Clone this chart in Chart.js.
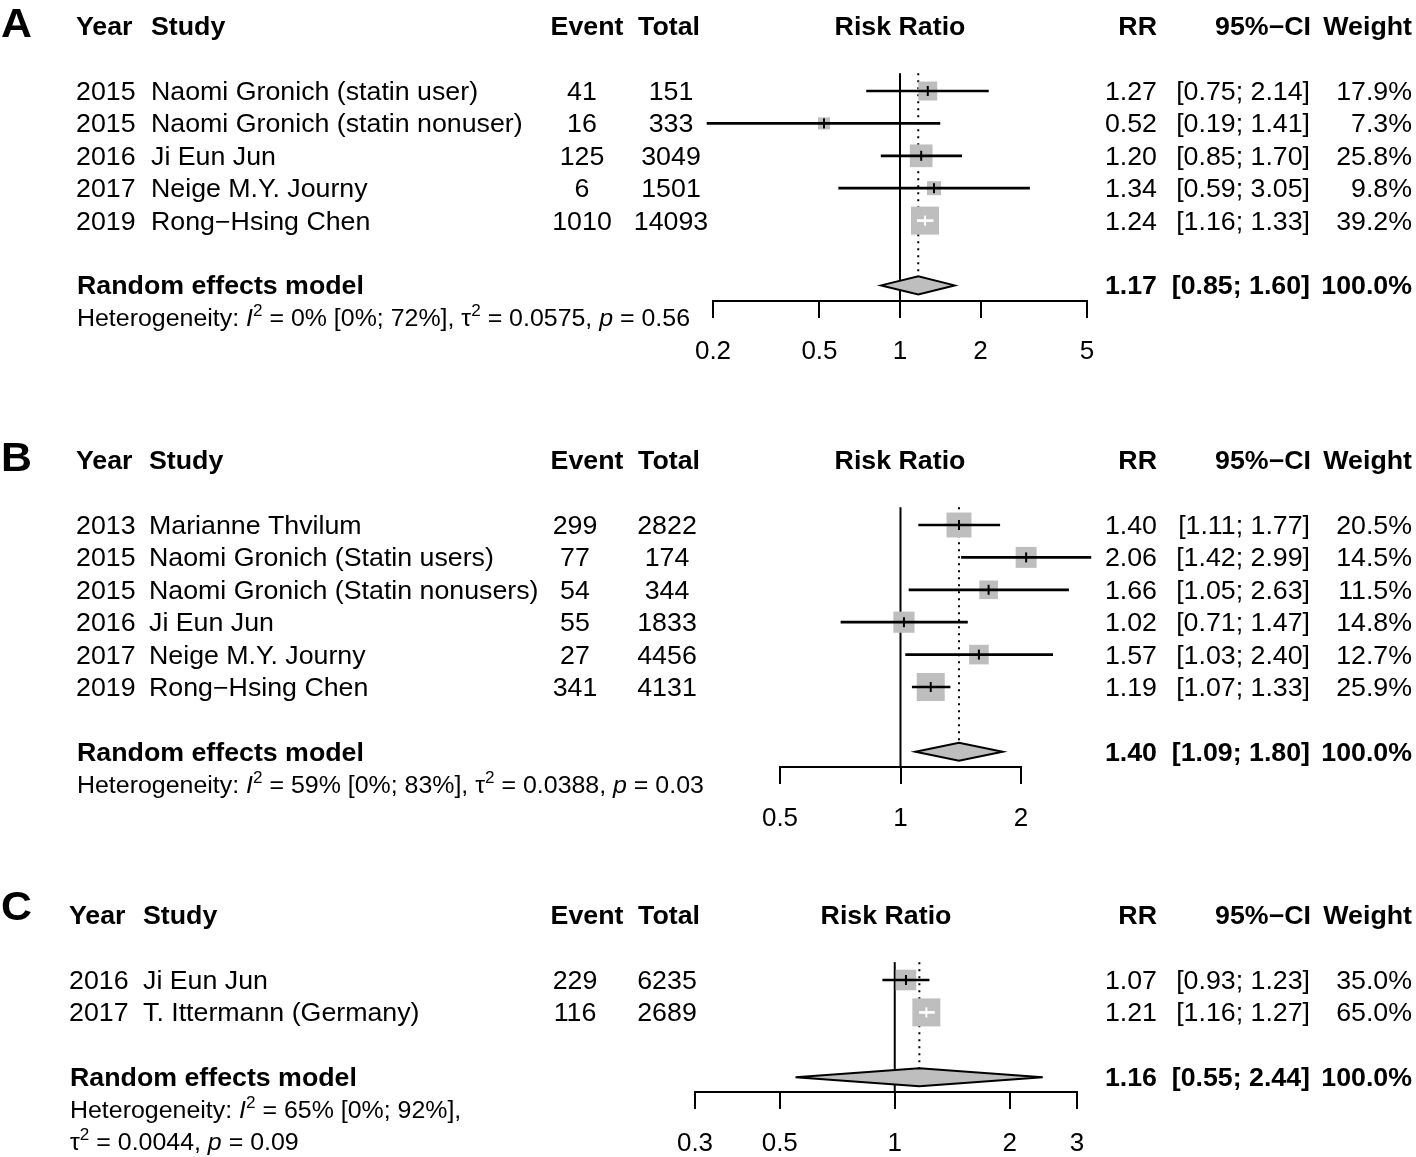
<!DOCTYPE html>
<html>
<head>
<meta charset="utf-8">
<script src="https://cdn.jsdelivr.net/npm/chart.js@4.4.1/dist/chart.umd.min.js"></script>
<style>
  html, body { margin: 0; padding: 0; background: #fff; }
  #wrap { position: relative; width: 1416px; height: 1157px; overflow: hidden; }
  canvas { position: absolute; left: 0; }
</style>
</head>
<body>
<div id="wrap">
  <canvas id="panelA" style="top:0px"></canvas>
  <canvas id="panelB" style="top:400px"></canvas>
  <canvas id="panelC" style="top:845px"></canvas>
</div>
<script>
'use strict';

// ---- panel A ----
const yearsA = ['2015', '2015', '2016', '2017', '2019'];
const studiesA = ['Naomi Gronich (statin user)', 'Naomi Gronich (statin nonuser)', 'Ji Eun Jun', 'Neige M.Y. Journy', 'Rong\u2212Hsing Chen'];
const eventsA = [41, 16, 125, 6, 1010];
const totalsA = [151, 333, 3049, 1501, 14093];
const rrA = [1.27, 0.52, 1.20, 1.34, 1.24];
const loA = [0.75, 0.19, 0.85, 0.59, 1.16];
const hiA = [2.14, 1.41, 1.70, 3.05, 1.33];
const weightA = [17.9, 7.3, 25.8, 9.8, 39.2];
const pooledA = [1.17, 0.85, 1.60];
const hetA = ['0%', '0%', '72%', '0.0575', '0.56'];
const ticksA = [0.2, 0.5, 1, 2, 5];

// ---- panel B ----
const yearsB = ['2013', '2015', '2015', '2016', '2017', '2019'];
const studiesB = ['Marianne Thvilum', 'Naomi Gronich (Statin users)', 'Naomi Gronich (Statin nonusers)', 'Ji Eun Jun', 'Neige M.Y. Journy', 'Rong\u2212Hsing Chen'];
const eventsB = [299, 77, 54, 55, 27, 341];
const totalsB = [2822, 174, 344, 1833, 4456, 4131];
const rrB = [1.40, 2.06, 1.66, 1.02, 1.57, 1.19];
const loB = [1.11, 1.42, 1.05, 0.71, 1.03, 1.07];
const hiB = [1.77, 2.99, 2.63, 1.47, 2.40, 1.33];
const weightB = [20.5, 14.5, 11.5, 14.8, 12.7, 25.9];
const pooledB = [1.40, 1.09, 1.80];
const hetB = ['59%', '0%', '83%', '0.0388', '0.03'];
const ticksB = [0.5, 1, 2];

// ---- panel C ----
const yearsC = ['2016', '2017'];
const studiesC = ['Ji Eun Jun', 'T. Ittermann (Germany)'];
const eventsC = [229, 116];
const totalsC = [6235, 2689];
const rrC = [1.07, 1.21];
const loC = [0.93, 1.16];
const hiC = [1.23, 1.27];
const weightC = [35.0, 65.0];
const pooledC = [1.16, 0.55, 2.44];
const hetC = ['65%', '0%', '92%', '0.0044', '0.09'];
const ticksC = [0.3, 0.5, 1, 2, 3];

const FONT = '"Liberation Sans", Arial, Helvetica, sans-serif';
const TXT = 25;        // body text size
const HET = 23.3;      // heterogeneity line is a bit smaller
const STRETCH = 1.07;  // the figure text is a little wide
const ROW = 32.4;      // px per row
const BOX = 28;        // side of the biggest square

function txt(ctx, s, x, yMid, align, bold, size) {
  size = size || TXT;
  ctx.save();
  ctx.font = (bold ? 'bold ' : '') + size + 'px ' + FONT;
  ctx.fillStyle = '#000';
  ctx.textAlign = align;
  ctx.textBaseline = 'alphabetic';
  ctx.translate(x, yMid + 0.358 * size);
  ctx.scale(STRETCH, 1);
  ctx.fillText(s, 0, 0);
  ctx.restore();
}

function rich(ctx, segs, x, yMid) {
  let cx = x;
  segs.forEach(s => {
    const size = s.sup ? 16 : HET;
    ctx.save();
    ctx.font = (s.it ? 'italic ' : '') + size + 'px ' + FONT;
    ctx.fillStyle = '#000';
    ctx.textAlign = 'left';
    ctx.textBaseline = 'alphabetic';
    ctx.translate(cx, yMid + 0.358 * HET - (s.sup ? 10 : 0));
    ctx.scale(STRETCH, 1);
    ctx.fillText(s.t, 0, 0);
    cx += ctx.measureText(s.t).width * STRETCH;
    ctx.restore();
  });
}

function hetLines(h, split) {
  const a = [{t: 'Heterogeneity: '}, {t: 'I', it: true}, {t: '2', sup: true},
    {t: ' = ' + h[0] + ' [' + h[1] + '; ' + h[2] + '],' + (split ? '' : ' ')}];
  const b = [{t: '\u03c4'}, {t: '2', sup: true}, {t: ' = ' + h[3] + ', '},
    {t: 'p', it: true}, {t: ' = ' + h[4]}];
  return split ? [a, b] : [a.concat(b)];
}

function forest(id, d, L) {
  const n = d.rr.length;
  const reRow = n + 2;
  const axisRow = reRow + 0.47;
  const topRow = 0.45;
  const wMax = Math.max(...d.weight);
  const side = d.weight.map(w => BOX * Math.sqrt(w / wMax));

  const inside = (chart, i) => {
    if (i === undefined) return false;
    const x = chart.scales.x;
    const c = x.getPixelForValue(d.rr[i]);
    return x.getPixelForValue(d.lo[i]) >= c - side[i] / 2 &&
      x.getPixelForValue(d.hi[i]) <= c + side[i] / 2;
  };

  const canvas = document.getElementById(id);
  canvas.width = 1416;
  canvas.height = L.height;

  const forestPlugin = {
    id: 'forestText',
    afterLayout(chart) {
      // rows sit at fixed page pixels: fit the hidden y range to the real chart area
      const y = chart.scales.y;
      y.min = 1 + (L.top + y.top - L.firstRow) / ROW;
      y.max = 1 + (L.top + y.bottom - L.firstRow) / ROW;
      y.configure();
    },
    beforeDatasetsDraw(chart) {
      const x = chart.scales.x, y = chart.scales.y, ctx = chart.ctx;
      ctx.save();
      ctx.strokeStyle = '#000';
      ctx.lineWidth = 2;
      const x1 = x.getPixelForValue(1);
      ctx.beginPath();
      ctx.moveTo(x1, y.getPixelForValue(topRow));
      ctx.lineTo(x1, y.getPixelForValue(axisRow));
      ctx.stroke();
      const xp = x.getPixelForValue(d.pooled[0]);
      ctx.setLineDash([2, 5]);
      ctx.beginPath();
      ctx.moveTo(xp, y.getPixelForValue(topRow));
      ctx.lineTo(xp, y.getPixelForValue(reRow) - 9);
      ctx.stroke();
      ctx.restore();
    },
    afterDatasetsDraw(chart) {
      const x = chart.scales.x, y = chart.scales.y, ctx = chart.ctx;
      const yc = y.getPixelForValue(reRow);
      const xp = x.getPixelForValue(d.pooled[0]);
      ctx.save();
      ctx.beginPath();
      ctx.moveTo(x.getPixelForValue(d.pooled[1]), yc);
      ctx.lineTo(xp, yc - 9);
      ctx.lineTo(x.getPixelForValue(d.pooled[2]), yc);
      ctx.lineTo(xp, yc + 9);
      ctx.closePath();
      ctx.fillStyle = '#bebebe';
      ctx.fill();
      ctx.strokeStyle = '#000';
      ctx.lineWidth = 2;
      ctx.stroke();
      ctx.restore();
    },
    afterDraw(chart) {
      const y = chart.scales.y, ctx = chart.ctx;
      const yh = y.getPixelForValue(-1);
      txt(ctx, L.letter, 1, yh - L.letterDy, 'left', true, 40);
      txt(ctx, 'Year', L.yearX, yh, 'left', true);
      txt(ctx, 'Study', L.studyX, yh, 'left', true);
      txt(ctx, 'Event', 587, yh, 'center', true);
      txt(ctx, 'Total', 669, yh, 'center', true);
      txt(ctx, 'Risk Ratio', L.rrHeadX, yh, 'center', true);
      txt(ctx, 'RR', 1157, yh, 'right', true);
      txt(ctx, '95%\u2212CI', 1311, yh, 'right', true);
      txt(ctx, 'Weight', 1412, yh, 'right', true);

      for (let i = 0; i < n; i++) {
        const yr = y.getPixelForValue(i + 1);
        txt(ctx, d.years[i], L.yearX, yr, 'left');
        txt(ctx, d.studies[i], L.studyX, yr, 'left');
        txt(ctx, String(d.events[i]), L.eventX, yr, 'center');
        txt(ctx, String(d.totals[i]), L.totalX, yr, 'center');
        txt(ctx, d.rr[i].toFixed(2), 1157, yr, 'right');
        txt(ctx, '[' + d.lo[i].toFixed(2) + '; ' + d.hi[i].toFixed(2) + ']', 1310, yr, 'right');
        txt(ctx, d.weight[i].toFixed(1) + '%', 1412, yr, 'right');
      }

      const yre = y.getPixelForValue(reRow);
      txt(ctx, 'Random effects model', L.yearX + 1, yre, 'left', true);
      txt(ctx, d.pooled[0].toFixed(2), 1157, yre, 'right', true);
      txt(ctx, '[' + d.pooled[1].toFixed(2) + '; ' + d.pooled[2].toFixed(2) + ']', 1310, yre, 'right', true);
      txt(ctx, '100.0%', 1412, yre, 'right', true);

      hetLines(d.het, L.splitHet).forEach((segs, k) => {
        rich(ctx, segs, L.yearX + 1, y.getPixelForValue(reRow + 1 + k));
      });
    }
  };

  return new Chart(canvas, {
    type: 'scatter',
    data: {
      datasets: [
        {
          type: 'scatter',
          label: 'RR',
          data: d.rr.map((v, i) => ({x: v, y: i + 1})),
          pointStyle: 'line',
          pointRotation: 90,
          pointRadius: 5,
          pointBorderWidth: 2,
          pointBorderColor: c => inside(c.chart, c.dataIndex) ? '#ffffff' : '#000000',
          order: 1,
          clip: false
        },
        {
          type: 'bar',
          label: '95%-CI',
          indexAxis: 'y',
          data: d.lo.map((v, i) => ({x: [v, d.hi[i]], y: i + 1})),
          barThickness: 2,
          grouped: false,
          borderWidth: 0,
          backgroundColor: c => inside(c.chart, c.dataIndex) ? '#ffffff' : '#000000',
          order: 2,
          clip: false
        },
        {
          type: 'scatter',
          label: 'Weight',
          data: d.rr.map((v, i) => ({x: v, y: i + 1})),
          pointStyle: 'rect',
          pointRadius: side.map(s => s / Math.SQRT2),
          pointBackgroundColor: '#bebebe',
          pointBorderWidth: 0,
          order: 3,
          clip: false
        }
      ]
    },
    options: {
      responsive: false,
      animation: false,
      devicePixelRatio: 1,
      events: [],
      layout: { autoPadding: false, padding: { left: L.axisL, right: 1416 - L.axisR, top: 0, bottom: 0 } },
      scales: {
        x: {
          type: 'logarithmic',
          min: d.ticks[0],
          max: d.ticks[d.ticks.length - 1],
          offset: false,
          position: { y: axisRow },
          afterBuildTicks: s => { s.ticks = d.ticks.map(v => ({value: v})); },
          ticks: {
            callback: v => String(v),
            color: '#000',
            font: { family: FONT, size: 26 },
            padding: 20,
            maxRotation: 0,
            autoSkip: false
          },
          grid: { display: true, offset: false, drawOnChartArea: false, drawTicks: true, tickLength: 16, color: '#000', lineWidth: 2 },
          border: { display: true, color: '#000', width: 2 }
        },
        y: { type: 'linear', min: 0, max: 10, offset: false, reverse: true, display: false, grid: { offset: false } }
      },
      plugins: { legend: { display: false }, tooltip: { enabled: false } }
    },
    plugins: [forestPlugin]
  });
}

forest('panelA',
  { years: yearsA, studies: studiesA, events: eventsA, totals: totalsA, rr: rrA, lo: loA, hi: hiA,
    weight: weightA, pooled: pooledA, het: hetA, ticks: ticksA },
  { top: 0, height: 400, firstRow: 91, axisL: 713, axisR: 1087, letter: 'A', letterDy: 4,
    yearX: 76, studyX: 151, eventX: 582, totalX: 671, rrHeadX: 900, splitHet: false });

forest('panelB',
  { years: yearsB, studies: studiesB, events: eventsB, totals: totalsB, rr: rrB, lo: loB, hi: hiB,
    weight: weightB, pooled: pooledB, het: hetB, ticks: ticksB },
  { top: 400, height: 445, firstRow: 525, axisL: 780, axisR: 1021, letter: 'B', letterDy: 4,
    yearX: 76, studyX: 149, eventX: 575, totalX: 667, rrHeadX: 900, splitHet: false });

forest('panelC',
  { years: yearsC, studies: studiesC, events: eventsC, totals: totalsC, rr: rrC, lo: loC, hi: hiC,
    weight: weightC, pooled: pooledC, het: hetC, ticks: ticksC },
  { top: 845, height: 312, firstRow: 980, axisL: 695, axisR: 1077, letter: 'C', letterDy: 10,
    yearX: 69, studyX: 143, eventX: 575, totalX: 667, rrHeadX: 886, splitHet: true });
</script>
</body>
</html>
